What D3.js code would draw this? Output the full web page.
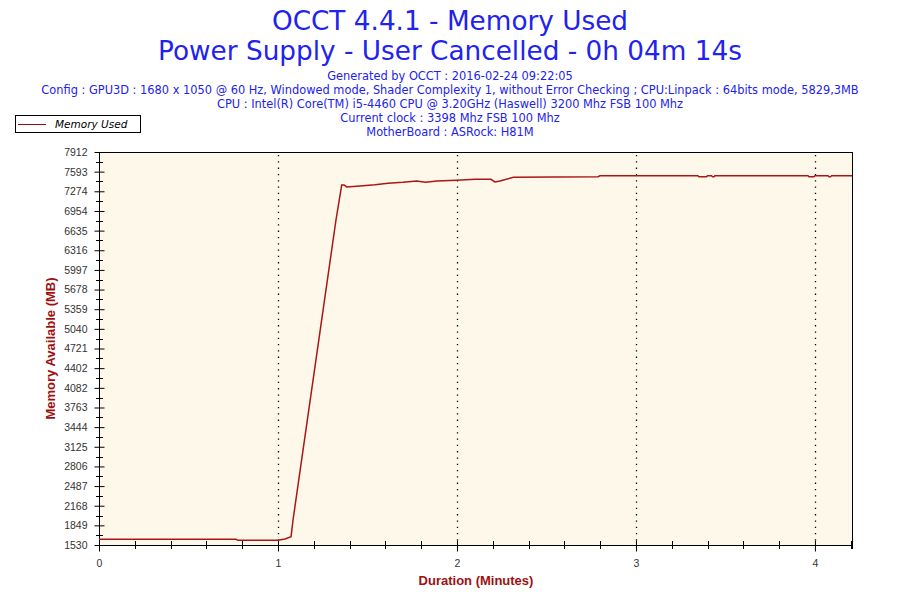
<!DOCTYPE html>
<html><head><meta charset="utf-8">
<script src="https://cdn.jsdelivr.net/npm/d3@7"></script>
<style>body{margin:0;background:#fff}svg{display:block}</style>
</head><body><svg id="c" width="900" height="600"></svg>
<script>
const titleLines = ["OCCT 4.4.1 - Memory Used", "Power Supply - User Cancelled - 0h 04m 14s"];
const infoLines = [
  "Generated by OCCT : 2016-02-24 09:22:05",
  "Config : GPU3D : 1680 x 1050 @ 60 Hz, Windowed mode, Shader Complexity 1, without Error Checking ; CPU:Linpack : 64bits mode, 5829,3MB",
  "CPU : Intel(R) Core(TM) i5-4460 CPU @ 3.20GHz (Haswell) 3200 Mhz FSB 100 Mhz",
  "Current clock : 3398 Mhz FSB 100 Mhz",
  "MotherBoard : ASRock: H81M"
];
const seriesName = "Memory Used";
const yTickLabels = [1530,1849,2168,2487,2806,3125,3444,3763,4082,4402,4721,5040,5359,5678,5997,6316,6635,6954,7274,7593,7912];
const xTickLabels = [0,1,2,3,4];
const xMax = 4.207;
// time in minutes
const times = [0, 0.765, 0.777, 1.0, 1.039, 1.073, 1.084, 1.324, 1.356, 1.369, 1.384, 1.458, 1.542, 1.615, 1.697, 1.775, 1.825, 1.887, 1.998, 2.101, 2.190, 2.212, 2.240, 2.315, 2.788, 2.799, 3.346, 3.352, 3.394, 3.400, 3.422, 3.428, 3.436, 3.441, 3.961, 3.967, 3.994, 4.000, 4.073, 4.079, 4.087, 4.093, 4.207];
const memory = [1623, 1623, 1606, 1606, 1627, 1665, 1936, 6808, 7376, 7376, 7344, 7360, 7381, 7404, 7420, 7441, 7420, 7441, 7453, 7469, 7469, 7425, 7441, 7501, 7511, 7527, 7527, 7511, 7511, 7527, 7527, 7511, 7511, 7527, 7527, 7511, 7511, 7527, 7527, 7511, 7511, 7527, 7527];

const svg = d3.select("#c");
const m = {l:99, r:852, t:152, b:545};
const x = d3.scaleLinear().domain([0, xMax]).range([m.l, m.r]);
const y = d3.scaleLinear().domain([1530, 7912]).range([m.b, m.t]);

// titles
svg.selectAll("text.title").data(titleLines).join("text")
  .attr("x", 450).attr("y", (d,i)=>30 + i*30).attr("text-anchor","middle")
  .attr("font-family","DejaVu Sans, Verdana, sans-serif").attr("font-size", 26.3)
  .attr("fill","#2222ee").text(d=>d);
svg.selectAll("text.info").data(infoLines).join("text")
  .attr("x", 450).attr("y", (d,i)=>80 + i*14).attr("text-anchor","middle")
  .attr("font-family","DejaVu Sans, Tahoma, sans-serif").attr("font-size", 11.4)
  .attr("fill","#2222ee").text(d=>d);

// plot background
svg.append("rect").attr("x", m.l).attr("y", m.t).attr("width", m.r-m.l).attr("height", m.b-m.t)
  .attr("fill","#fef8eb");

// vertical dotted grid
svg.append("g").selectAll("line").data(xTickLabels.filter(d=>d>0)).join("line")
  .attr("x1", d=>Math.round(x(d))+0.5).attr("x2", d=>Math.round(x(d))+0.5)
  .attr("y1", m.t+3).attr("y2", m.b)
  .attr("stroke","#000").attr("stroke-width",1.3).attr("stroke-dasharray","1.3,5");

// frame
svg.append("rect").attr("x", m.l+0.5).attr("y", m.t+0.5).attr("width", m.r-m.l).attr("height", m.b-m.t)
  .attr("fill","none").attr("stroke","#000").attr("stroke-width",1);

// y axis
const yAxis = d3.axisLeft(y).tickValues(yTickLabels).tickSize(5).tickPadding(4).tickFormat(d=>d);
const gy = svg.append("g").attr("transform", `translate(${m.l+0.5},0)`).call(yAxis);
gy.select(".domain").remove();
gy.selectAll(".tick line").attr("x2", 5).attr("x1",-5).attr("stroke","#000");
gy.selectAll("text").attr("font-family","Liberation Sans, Arial, sans-serif").attr("font-size",10.5).attr("fill","#333").attr("x",-12);
const yMinor = d3.range(yTickLabels.length-1).map(i => (yTickLabels[i]+yTickLabels[i+1])/2);
svg.append("g").selectAll("line").data(yMinor).join("line")
  .attr("x1", m.l-3).attr("x2", m.l+4).attr("y1", d=>Math.round(y(d))+0.5).attr("y2", d=>Math.round(y(d))+0.5)
  .attr("stroke","#000");

// x axis
const xAxis = d3.axisBottom(x).tickValues(xTickLabels).tickSize(6).tickPadding(8).tickFormat(d3.format("d"));
const gx = svg.append("g").attr("transform", `translate(0,${m.b+0.5})`).call(xAxis);
gx.select(".domain").remove();
gx.selectAll(".tick line").attr("y1",-5).attr("y2",6).attr("stroke","#000");
gx.selectAll("text").attr("font-family","Liberation Sans, Arial, sans-serif").attr("font-size",10.5).attr("fill","#333");
const xMinor = d3.range(0, xMax+0.001, 0.2).filter(d => Math.abs(d - Math.round(d)) > 0.01);
svg.append("g").selectAll("line").data(xMinor.concat([xMax])).join("line")
  .attr("x1", d=>Math.round(x(d))+0.5).attr("x2", d=>Math.round(x(d))+0.5)
  .attr("y1", m.b-4).attr("y2", m.b+4).attr("stroke","#000");

// axis titles
svg.append("text").attr("transform", `translate(55,${(m.t+m.b)/2}) rotate(-90)`)
  .attr("text-anchor","middle").attr("font-family","Liberation Sans, Arial, sans-serif")
  .attr("font-weight","bold").attr("font-size",13).attr("fill","#a01010").text("Memory Available (MB)");
svg.append("text").attr("x", 476).attr("y", 585).attr("text-anchor","middle")
  .attr("font-family","Liberation Sans, Arial, sans-serif")
  .attr("font-weight","bold").attr("font-size",13).attr("fill","#a01010").text("Duration (Minutes)");

// line
const data = times.map((t,i)=>({t, v: memory[i]}));
svg.append("path").datum(data)
  .attr("d", d3.line().x(d=>x(d.t)).y(d=>y(d.v)))
  .attr("fill","none").attr("stroke","#aa1515").attr("stroke-width",1.5);

// legend
const lg = svg.append("g");
lg.append("rect").attr("x",15.5).attr("y",115.5).attr("width",125).attr("height",17)
  .attr("fill","#fff").attr("stroke","#000");
lg.append("line").attr("x1",18).attr("x2",46).attr("y1",124.5).attr("y2",124.5).attr("stroke","#8b1010").attr("stroke-width",1);
lg.append("text").attr("x",55).attr("y",128).attr("font-family","DejaVu Sans, Verdana, sans-serif")
  .attr("font-style","italic").attr("font-size",10.5).attr("fill","#000").text(seriesName);
</script></body></html>
